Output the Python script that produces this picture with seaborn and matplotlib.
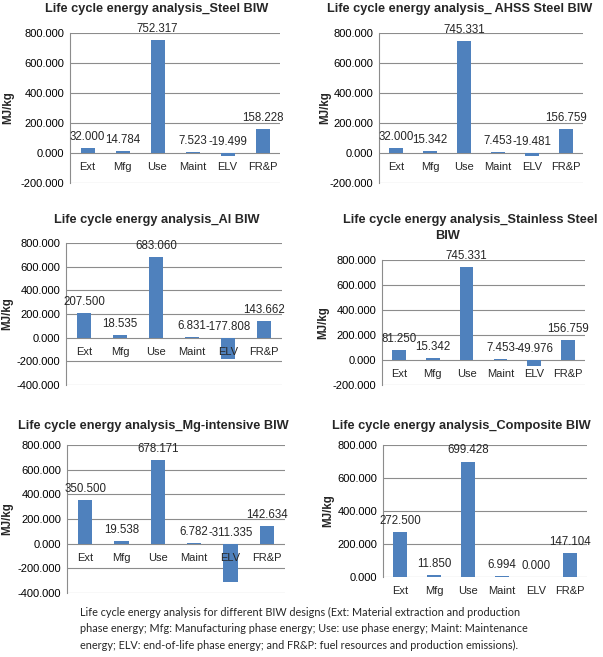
import matplotlib
matplotlib.use("Agg")
import matplotlib.pyplot as plt
import seaborn as sns
import pandas as pd

categories = ["Ext", "Mfg", "Use", "Maint", "ELV", "FR&P"]
steel = [32.000, 14.784, 752.317, 7.523, -19.499, 158.228]
ahss = [32.000, 15.342, 745.331, 7.453, -19.481, 156.759]
al = [207.500, 18.535, 683.060, 6.831, -177.808, 143.662]
stainless = [81.250, 15.342, 745.331, 7.453, -49.976, 156.759]
mg = [350.500, 19.538, 678.171, 6.782, -311.335, 142.634]
composite = [272.500, 11.850, 699.428, 6.994, 0.000, 147.104]

titles = [
    ["Life cycle energy analysis_Steel BIW"],
    ["Life cycle energy analysis_ AHSS Steel BIW"],
    ["Life cycle energy analysis_Al BIW"],
    ["Life cycle energy analysis_Stainless Steel", "BIW"],
    ["Life cycle energy analysis_Mg-intensive BIW"],
    ["Life cycle energy analysis_Composite BIW"],
]
series = [steel, ahss, al, stainless, mg, composite]
y_ranges = [(-200, 800), (-200, 800), (-400, 800), (-200, 800), (-400, 800), (0, 800)]
y_label = "MJ/kg"
caption_lines = [
    "Life cycle energy analysis for different BIW designs (Ext: Material extraction and production",
    "phase energy; Mfg: Manufacturing phase energy; Use: use phase energy; Maint: Maintenance",
    "energy; ELV: end-of-life phase energy; and FR&P: fuel resources and production emissions).",
]

W, H = 603, 657
sns.set_theme(style="white")
plt.rcParams["font.family"] = ["Liberation Sans", "DejaVu Sans"]
fig = plt.figure(figsize=(W / 100, H / 100), dpi=100)

# axes boxes in pixels: x0, x1, ytop, ybottom
boxes = [
    (70, 280, 33, 183),
    (379, 583, 33, 183),
    (66, 282, 243, 385),
    (382, 585, 260, 385),
    (67, 285, 445, 593),
    (383, 587, 445, 577),
]
title_pos = [
    [(157, 9)],
    [(460, 9)],
    [(157, 220)],
    [(470, 220), (448, 236)],
    [(153, 426)],
    [(461, 426)],
]
ylabel_x = [8, 325, 7, 323, 7, 328]

BLUE = "#4F81BD"
GRID = "#8C8C8C"

for i, (vals, (x0, x1, yt, yb)) in enumerate(zip(series, boxes)):
    ax = fig.add_axes([x0 / W, 1 - yb / H, (x1 - x0) / W, (yb - yt) / H])
    df = pd.DataFrame({"cat": categories, "val": vals})
    sns.barplot(data=df, x="cat", y="val", ax=ax, color=BLUE, saturation=1,
                width=0.4, edgecolor="none")
    lo, hi = y_ranges[i]
    ax.set_ylim(lo, hi)
    ax.set_xlim(-0.5, len(categories) - 0.5)
    ticks = list(range(lo, hi + 1, 200))
    ax.set_yticks(ticks)
    ax.set_yticklabels([f"{t:.3f}" for t in ticks], fontsize=8)
    ax.tick_params(axis="y", length=0, pad=4, colors="#000000")
    ax.set_xticks([])
    ax.set_xlabel("")
    ax.set_ylabel("")
    ax.yaxis.grid(True, color=GRID, linewidth=0.8)
    ax.set_axisbelow(True)
    for s in ["top", "right", "bottom"]:
        ax.spines[s].set_visible(False)
    ax.spines["left"].set_color(GRID)
    ax.spines["left"].set_linewidth(0.8)
    for j, (c, v) in enumerate(zip(categories, vals)):
        ax.annotate(c, (j, 0), xytext=(0, -10), textcoords="offset points",
                    ha="center", va="center", fontsize=8)
        ax.annotate(f"{v:.3f}", (j, max(v, 0)), xytext=(0, 8),
                    textcoords="offset points", ha="center", va="center",
                    fontsize=8.3, annotation_clip=False)
    fig.text(ylabel_x[i] / W, 1 - ((yt + yb) / 2) / H, y_label, rotation=90,
             ha="center", va="center", fontsize=8.3, fontweight="bold")
    for line, (tx, ty) in zip(titles[i], title_pos[i]):
        fig.text(tx / W, 1 - ty / H, line, ha="center", va="center",
                 fontsize=9.2, fontweight="bold")

for k, line in enumerate(caption_lines):
    fig.text(80 / W, 1 - (612 + k * 16.5) / H, line, ha="left", va="center",
             fontsize=7.8, family=["Lato", "DejaVu Sans"])

fig.savefig("out.png", dpi=100, facecolor="white")
